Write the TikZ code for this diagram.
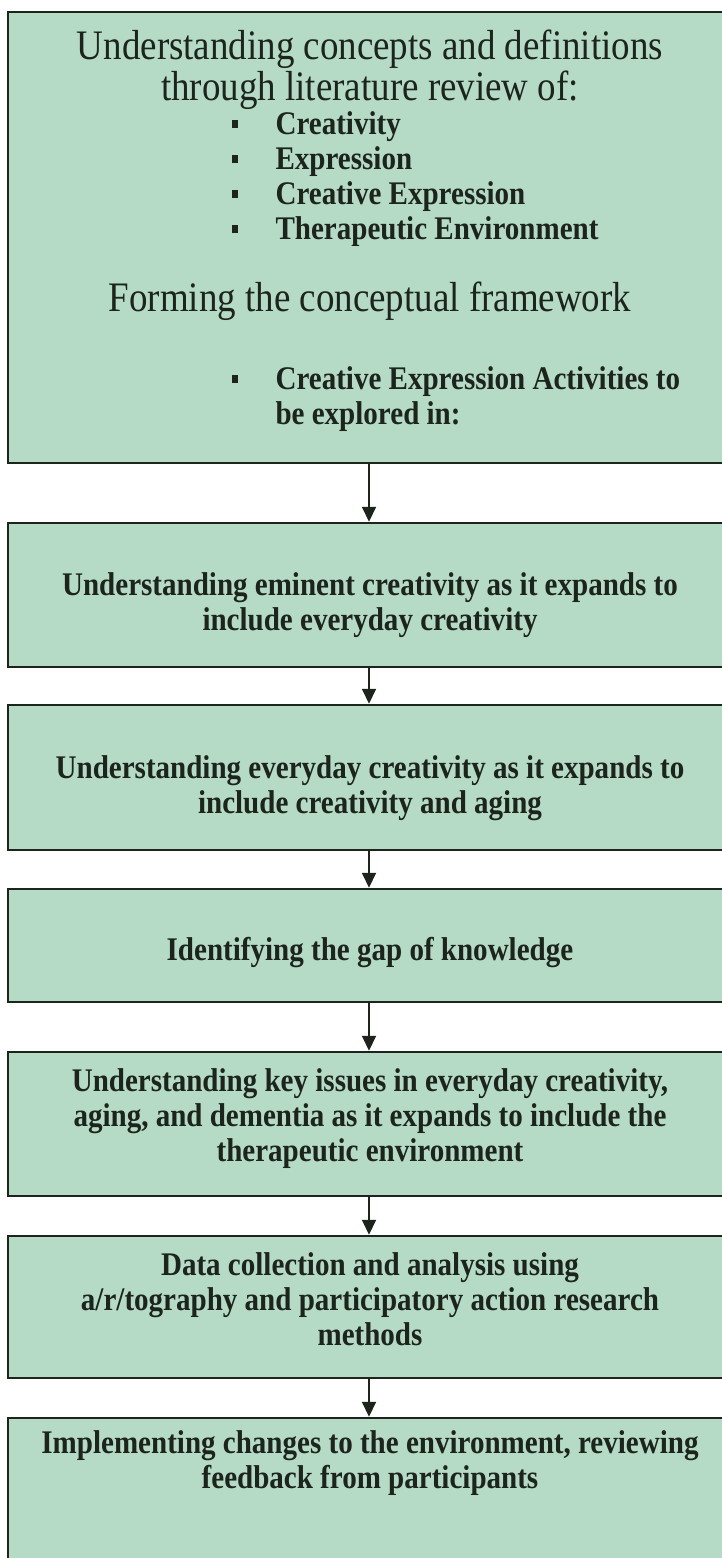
\documentclass[tikz,border=0pt]{standalone}
\usepackage{fontspec}
\setmainfont{Liberation Serif}[FakeStretch=0.88]
\usetikzlibrary{arrows.meta}

\definecolor{boxfill}{RGB}{181,219,199}
\definecolor{inkdark}{RGB}{28,36,28}
\newcommand{\sqbullet}{\makebox[44pt][l]{\rule[6pt]{6.5pt}{8pt}}}

\begin{document}
\begin{tikzpicture}[x=1pt, y=-1pt,
                    stage/.style={rectangle, draw=inkdark, line width=2.5pt,
                                  fill=boxfill, minimum width=722pt, inner sep=0pt},
                    stagetext/.style={text=inkdark, align=center,
                                      font=\fontsize{33}{35}\selectfont\bfseries},
                    headtext/.style={text=inkdark, align=center,
                                     font=\fontsize{42}{41}\selectfont},
                    flow/.style={-{Triangle[width=14pt,length=15pt]},
                                 draw=inkdark, line width=2pt}]
  \useasboundingbox (0,0) rectangle (722,1558);

  % stages
  \node[stage, minimum height=451pt] (s1) at (369,237.5) {};
  \node[stage, minimum height=144pt] (s2) at (369,595) {};
  \node[stage, minimum height=145pt] (s3) at (369,777.5) {};
  \node[stage, minimum height=113pt] (s4) at (369,945.5) {};
  \node[stage, minimum height=144pt] (s5) at (369,1124) {};
  \node[stage, minimum height=142pt] (s6) at (369,1307) {};
  \node[stage, minimum height=190pt] (s7) at (369,1513) {};

  % first stage: literature review
  \node[headtext] (review) at (370,70)
    {Understanding concepts and definitions\\through literature review of:};
  \node[stagetext, align=left, anchor=west] (topics) at (228,179)
    {\sqbullet Creativity\\\sqbullet Expression\\
     \sqbullet Creative Expression\\\sqbullet Therapeutic Environment};
  \node[headtext] (framework) at (370,301) {Forming the conceptual framework};
  \node[stagetext, align=left, anchor=west] (activities) at (228,399)
    {\sqbullet Creative Expression Activities to\\\hspace*{44pt}be explored in:};

  % following stages
  \node[stagetext] (t2) at (370,605)
    {Understanding eminent creativity as it expands to\\include everyday creativity};
  \node[stagetext] (t3) at (370,788)
    {Understanding everyday creativity as it expands to\\include creativity and aging};
  \node[stagetext] (t4) at (370,953) {Identifying the gap of knowledge};
  \node[stagetext] (t5) at (370,1119)
    {Understanding key issues in everyday creativity,\\aging, and dementia as it expands to include the\\therapeutic environment};
  \node[stagetext] (t6) at (370,1299)
    {Data collection and analysis using\\a/r/tography and participatory action research\\methods};
  \node[stagetext] (t7) at (370,1463.5)
    {Implementing changes to the environment, reviewing\\feedback from participants};

  \draw[flow] (s1) -- (s2);
  \draw[flow] (s2) -- (s3);
  \draw[flow] (s3) -- (s4);
  \draw[flow] (s4) -- (s5);
  \draw[flow] (s5) -- (s6);
  \draw[flow] (s6) -- (s7);
\end{tikzpicture}
\end{document}
